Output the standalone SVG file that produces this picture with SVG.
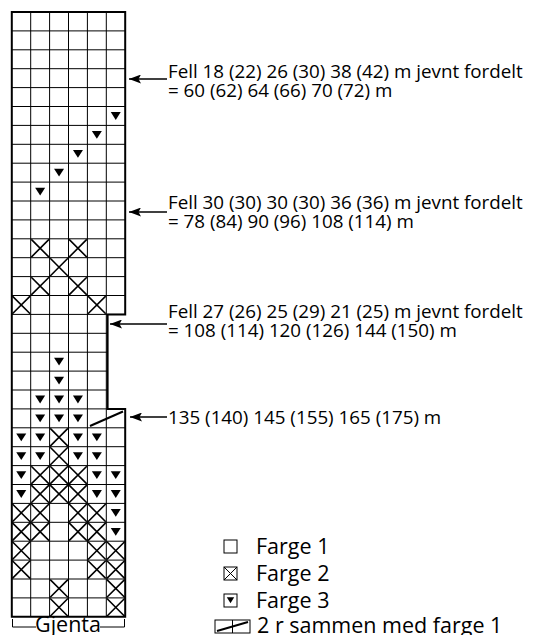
<svg xmlns="http://www.w3.org/2000/svg" xmlns:xlink="http://www.w3.org/1999/xlink" width="533" height="635" viewBox="0 0 533 635">
<style>
.bg{fill:#fff}
.thin{fill:none;stroke:#000;stroke-width:1}
.thick{fill:none;stroke:#000;stroke-width:2}
.xs{fill:none;stroke:#000;stroke-width:1.6}
.tri{fill:#000}
.lbl{font-family:"Open Sans","Noto Sans","DejaVu Sans",sans-serif;font-size:18.8px;fill:#000}
.leg{font-family:"Open Sans","Noto Sans","DejaVu Sans",sans-serif;font-size:21.5px;fill:#000}
.arr{fill:none;stroke:#000;stroke-width:1.5}
</style>
<defs>
<path id="x" d="M0.6 0.6L18.3 18.3M18.3 0.6L0.6 18.3" class="xs"/>
<path id="t" d="M4.45 5.6H14.45L9.45 13.4Z" class="tri"/>
<marker id="ah" markerUnits="userSpaceOnUse" markerWidth="13" markerHeight="9" refX="12" refY="4.5" orient="auto">
<path d="M0 0L12 4.5L0 9L2.5 4.5Z" fill="#000"/>
</marker>
</defs>
<rect class="bg" width="533" height="635"/>
<g id="chart">
<path class="thin" d="M30.7 12V616.8M49.6 12V616.8M68.5 12V616.8M87.4 12V616.8M106.3 12V616.8"/>
<path class="thin" d="M11.8 30.9H125.2M11.8 49.8H125.2M11.8 68.7H125.2M11.8 87.6H125.2M11.8 106.5H125.2M11.8 125.4H125.2M11.8 144.3H125.2M11.8 163.2H125.2M11.8 182.1H125.2M11.8 201H125.2M11.8 219.9H125.2M11.8 238.8H125.2M11.8 257.7H125.2M11.8 276.6H125.2M11.8 295.5H125.2M11.8 314.4H125.2M11.8 333.3H107M11.8 352.2H107M11.8 371.1H107M11.8 390H107M11.8 408.9H125.2M11.8 427.8H125.2M11.8 446.7H125.2M11.8 465.6H125.2M11.8 484.5H125.2M11.8 503.4H125.2M11.8 522.3H125.2M11.8 541.2H125.2M11.8 560.1H125.2M11.8 579H125.2M11.8 597.9H125.2"/>
<path class="thick" d="M11.8 12H125.2V314.4H107.6V408.9H125.2V616.8H11.8Z"/>
<g id="triangles">
<use xlink:href="#t" x="106.3" y="106.5"/>
<use xlink:href="#t" x="87.4" y="125.4"/>
<use xlink:href="#t" x="68.5" y="144.3"/>
<use xlink:href="#t" x="49.6" y="163.2"/>
<use xlink:href="#t" x="30.7" y="182.1"/>
<use xlink:href="#t" x="49.6" y="352.2"/>
<use xlink:href="#t" x="49.6" y="371.1"/>
<use xlink:href="#t" x="30.7" y="390"/>
<use xlink:href="#t" x="49.6" y="390"/>
<use xlink:href="#t" x="68.5" y="390"/>
<use xlink:href="#t" x="30.7" y="408.9"/>
<use xlink:href="#t" x="49.6" y="408.9"/>
<use xlink:href="#t" x="68.5" y="408.9"/>
<use xlink:href="#t" x="11.8" y="427.8"/>
<use xlink:href="#t" x="30.7" y="427.8"/>
<use xlink:href="#t" x="68.5" y="427.8"/>
<use xlink:href="#t" x="87.4" y="427.8"/>
<use xlink:href="#t" x="11.8" y="446.7"/>
<use xlink:href="#t" x="30.7" y="446.7"/>
<use xlink:href="#t" x="68.5" y="446.7"/>
<use xlink:href="#t" x="87.4" y="446.7"/>
<use xlink:href="#t" x="11.8" y="465.6"/>
<use xlink:href="#t" x="87.4" y="465.6"/>
<use xlink:href="#t" x="106.3" y="465.6"/>
<use xlink:href="#t" x="11.8" y="484.5"/>
<use xlink:href="#t" x="87.4" y="484.5"/>
<use xlink:href="#t" x="106.3" y="484.5"/>
<use xlink:href="#t" x="106.3" y="503.4"/>
<use xlink:href="#t" x="106.3" y="522.3"/>
</g>
<g id="crosses">
<use xlink:href="#x" x="30.7" y="238.8"/>
<use xlink:href="#x" x="68.5" y="238.8"/>
<use xlink:href="#x" x="49.6" y="257.7"/>
<use xlink:href="#x" x="30.7" y="276.6"/>
<use xlink:href="#x" x="68.5" y="276.6"/>
<use xlink:href="#x" x="11.8" y="295.5"/>
<use xlink:href="#x" x="87.4" y="295.5"/>
<use xlink:href="#x" x="49.6" y="427.8"/>
<use xlink:href="#x" x="49.6" y="446.7"/>
<use xlink:href="#x" x="30.7" y="465.6"/>
<use xlink:href="#x" x="49.6" y="465.6"/>
<use xlink:href="#x" x="68.5" y="465.6"/>
<use xlink:href="#x" x="30.7" y="484.5"/>
<use xlink:href="#x" x="49.6" y="484.5"/>
<use xlink:href="#x" x="68.5" y="484.5"/>
<use xlink:href="#x" x="11.8" y="503.4"/>
<use xlink:href="#x" x="30.7" y="503.4"/>
<use xlink:href="#x" x="68.5" y="503.4"/>
<use xlink:href="#x" x="87.4" y="503.4"/>
<use xlink:href="#x" x="11.8" y="522.3"/>
<use xlink:href="#x" x="30.7" y="522.3"/>
<use xlink:href="#x" x="68.5" y="522.3"/>
<use xlink:href="#x" x="87.4" y="522.3"/>
<use xlink:href="#x" x="11.8" y="541.2"/>
<use xlink:href="#x" x="87.4" y="541.2"/>
<use xlink:href="#x" x="106.3" y="541.2"/>
<use xlink:href="#x" x="11.8" y="560.1"/>
<use xlink:href="#x" x="87.4" y="560.1"/>
<use xlink:href="#x" x="106.3" y="560.1"/>
<use xlink:href="#x" x="49.6" y="579"/>
<use xlink:href="#x" x="106.3" y="579"/>
<use xlink:href="#x" x="49.6" y="597.9"/>
<use xlink:href="#x" x="106.3" y="597.9"/>
</g>
<path id="dec" d="M90 426L123 411.5" fill="none" stroke="#000" stroke-width="2"/>
</g>
<g id="repeat">
<path class="thin" d="M12.5 619V627H36M100 627H124.5V619"/>
<text class="leg" x="68" y="631.5" text-anchor="middle" font-size="17">Gjenta</text>
</g>
<g id="connectors">
<line class="arr" x1="167" y1="79" x2="129" y2="79" marker-end="url(#ah)"/>
<line class="arr" x1="167" y1="212" x2="129" y2="212" marker-end="url(#ah)"/>
<line class="arr" x1="167" y1="324" x2="110" y2="324" marker-end="url(#ah)"/>
<line class="arr" x1="167" y1="417" x2="130" y2="417" marker-end="url(#ah)"/>
</g>
<g id="labels">
<text class="lbl" x="168" y="77.5">Fell 18 (22) 26 (30) 38 (42) m jevnt fordelt</text>
<text class="lbl" x="168" y="96.5">= 60 (62) 64 (66) 70 (72) m</text>
<text class="lbl" x="168" y="208.5">Fell 30 (30) 30 (30) 36 (36) m jevnt fordelt</text>
<text class="lbl" x="168" y="227.5">= 78 (84) 90 (96) 108 (114) m</text>
<text class="lbl" x="168" y="318">Fell 27 (26) 25 (29) 21 (25) m jevnt fordelt</text>
<text class="lbl" x="168" y="337">= 108 (114) 120 (126) 144 (150) m</text>
<text class="lbl" x="168" y="424">135 (140) 145 (155) 165 (175)  m</text>
</g>
<g id="legend">
<g id="leg1">
<rect class="thin" x="224" y="540" width="13" height="13"/>
<text class="leg" x="256" y="553.5">Farge 1</text>
</g>
<g id="leg2">
<rect class="thin" x="224" y="567" width="13" height="13"/>
<path class="thin" d="M224 567L237 580M237 567L224 580"/>
<text class="leg" x="256" y="580.5">Farge 2</text>
</g>
<g id="leg3">
<rect class="thin" x="224" y="594" width="13" height="13"/>
<path class="tri" d="M226.8 597.3H234.2L230.5 603.3Z"/>
<text class="leg" x="256" y="607.5">Farge 3</text>
</g>
<g id="leg4">
<rect class="thin" x="215" y="620" width="35" height="13"/>
<path class="thin" d="M232.5 620V633"/>
<path d="M217 631L248 622" fill="none" stroke="#000" stroke-width="2"/>
<text class="leg" x="257" y="632.5">2 r sammen med farge 1</text>
</g>
</g>
</svg>
